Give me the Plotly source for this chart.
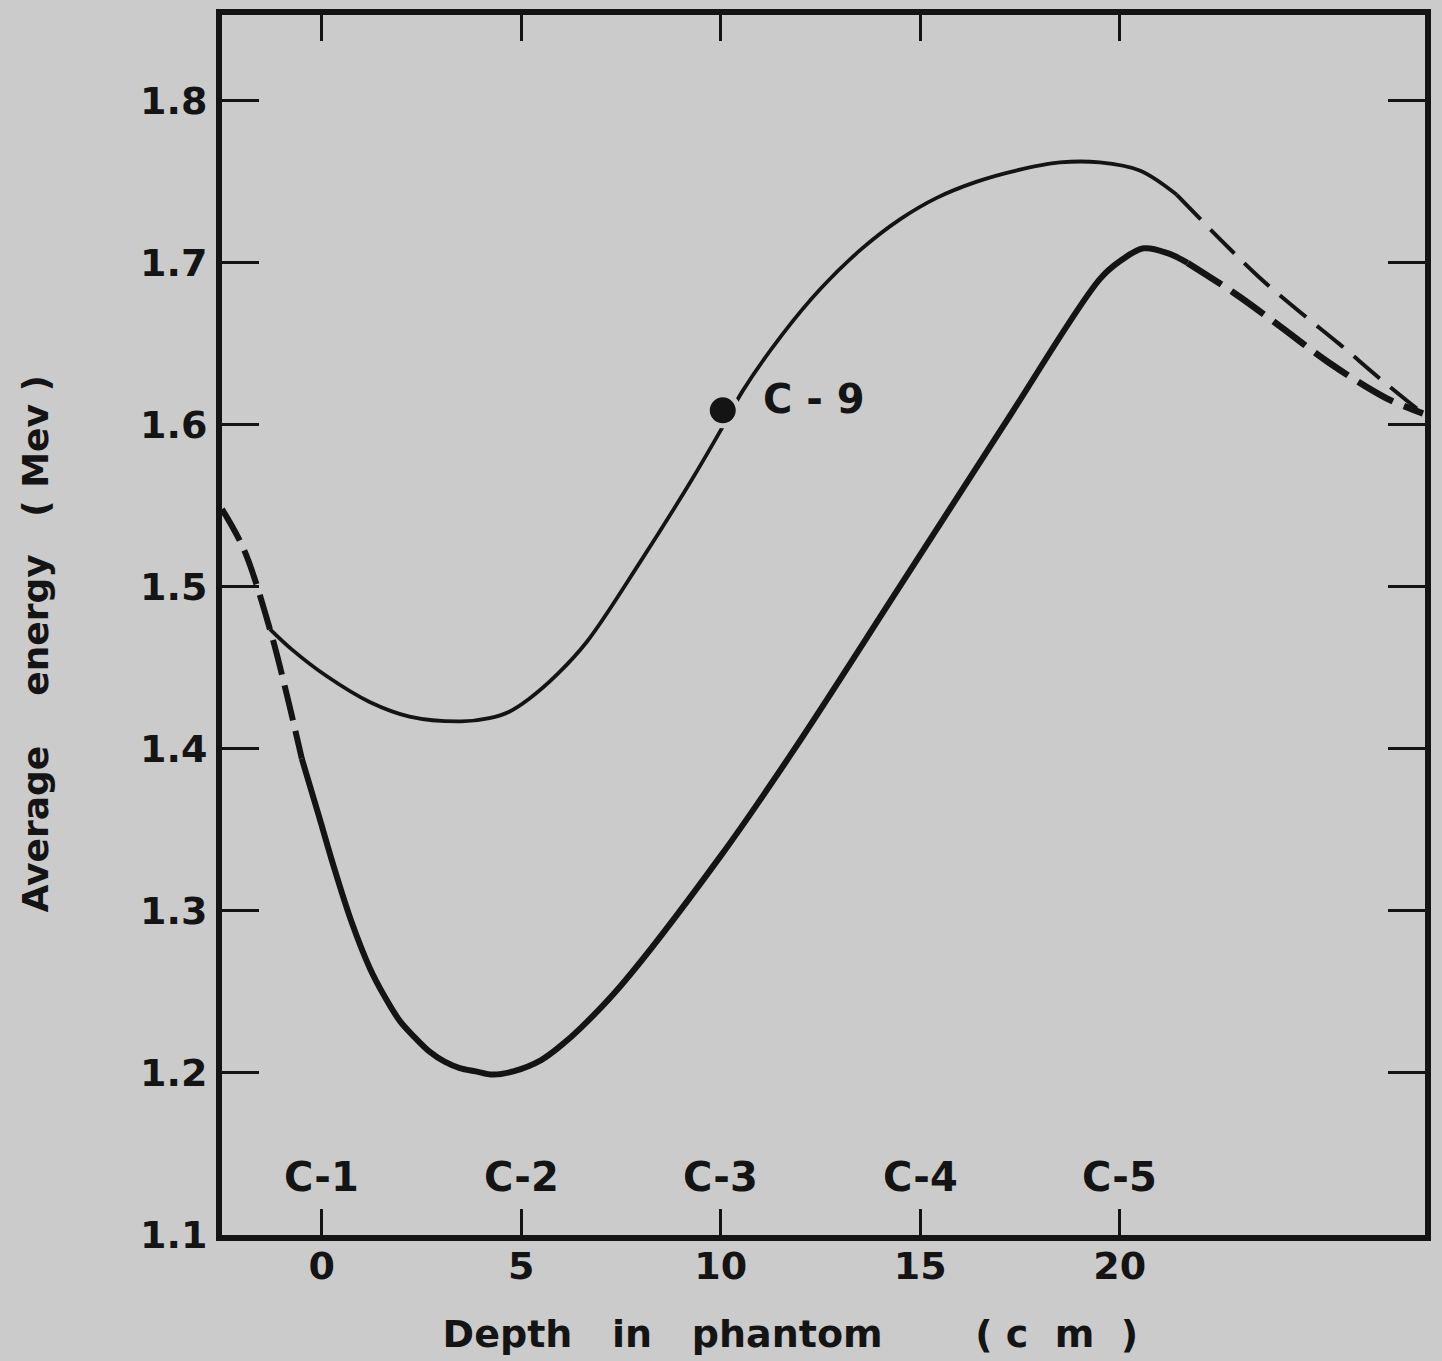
import plotly.graph_objects as go

# ---------------- data ----------------
# lower (thick) curve, initial dashed part
low_dash_a_x = [-2.5, -1.95, -1.3, -0.9, -0.5]
low_dash_a_y = [1.548, 1.523, 1.474, 1.436, 1.394]
# lower curve, solid part
low_x = [-0.5, -0.10, 0.33, 0.75, 1.20, 1.58, 1.96, 2.33, 2.71, 3.08, 3.46, 3.86, 4.29,
         4.8, 5.5, 6.0, 6.5, 7.5, 10.0, 11.85, 14.48, 17.1, 19.5, 20.0, 20.6, 21.2, 21.7]
low_y = [1.394, 1.361, 1.325, 1.293, 1.265, 1.247, 1.232, 1.222, 1.213, 1.207, 1.203, 1.201, 1.199,
         1.201, 1.208, 1.217, 1.228, 1.254, 1.334, 1.400, 1.500, 1.600, 1.690, 1.701, 1.709, 1.706, 1.700]
# lower curve, final dashed part
low_dash_b_x = [21.7, 22.83, 24.01, 25.21, 26.64, 27.6]
low_dash_b_y = [1.700, 1.682, 1.661, 1.639, 1.617, 1.607]

# upper (thin) curve, solid part
up_x = [-1.3, -0.73, 0.12, 1.2, 2.2, 3.5, 4.2, 4.7, 5.2, 5.9, 6.64, 7.97, 9.27, 10.03,
        10.55, 11.55, 12.5, 13.5, 14.5, 15.4, 16.4, 17.4, 18.5, 19.5, 20.5, 21.43]
up_y = [1.474, 1.461, 1.445, 1.429, 1.420, 1.417, 1.419, 1.423, 1.431, 1.446, 1.466, 1.515, 1.566, 1.598,
        1.621, 1.656, 1.684, 1.708, 1.727, 1.740, 1.750, 1.757, 1.762, 1.762, 1.757, 1.742]
# upper curve, final dashed part
up_dash_x = [21.43, 22.58, 23.5, 24.5, 25.5, 26.5, 27.6]
up_dash_y = [1.742, 1.713, 1.691, 1.670, 1.650, 1.629, 1.607]

# measured point C-9
c9_x = [10.05]
c9_y = [1.609]
c9_label = "C\u00a0-\u00a09"

# position labels along the depth axis
pos_labels = ["C-1", "C-2", "C-3", "C-4", "C-5"]
pos_x = [0, 5, 10, 15, 20]
pos_label_y = 1.136

x_ticks = [0, 5, 10, 15, 20]
x_ticktext = ["0", "5", "10", "15", "20"]
y_ticks = [1.1, 1.2, 1.3, 1.4, 1.5, 1.6, 1.7, 1.8]
y_ticktext = ["1.1", "1.2", "1.3", "1.4", "1.5", "1.6", "1.7", "1.8"]

NB = "\u00a0"
ZW = "\u200b"
x_title = ("Depth" + NB * 3 + "in" + NB * 3 + "phantom" + NB * 7 + "(" + NB + "c" + NB * 2 + "m"
           + NB * 2 + ")" + NB * 5 + ZW)
y_title = "Average" + NB * 4 + "energy" + NB * 3 + "(" + NB + "Mev" + NB + ")" + NB * 3 + ZW

# ---------------- styling ----------------
BG = "#cbcbcb"
INK = "#141414"
FONT = "DejaVu Sans"

fig = go.Figure()

fig.add_trace(go.Scatter(x=low_dash_a_x, y=low_dash_a_y, mode="lines",
                         line=dict(color=INK, width=6, dash="36px,11px", shape="spline"),
                         showlegend=False, hoverinfo="skip"))
fig.add_trace(go.Scatter(x=low_x, y=low_y, mode="lines",
                         line=dict(color=INK, width=6, shape="spline", smoothing=1.0),
                         showlegend=False))
fig.add_trace(go.Scatter(x=low_dash_b_x, y=low_dash_b_y, mode="lines",
                         line=dict(color=INK, width=6.5, dash="40px,12px", shape="spline"),
                         showlegend=False))
fig.add_trace(go.Scatter(x=up_x, y=up_y, mode="lines",
                         line=dict(color=INK, width=3.8, shape="spline", smoothing=1.0),
                         showlegend=False))
fig.add_trace(go.Scatter(x=up_dash_x, y=up_dash_y, mode="lines",
                         line=dict(color=INK, width=4, dash="34px,14px", shape="spline"),
                         showlegend=False))
fig.add_trace(go.Scatter(x=c9_x, y=c9_y, mode="markers",
                         marker=dict(color=INK, size=31, line=dict(color=BG, width=5)),
                         showlegend=False))

annotations = []
for lab, xv in zip(pos_labels, pos_x):
    annotations.append(dict(x=xv, y=pos_label_y, xref="x", yref="y", text=lab,
                            showarrow=False, xanchor="center", yanchor="middle",
                            font=dict(family=FONT, size=40, color=INK, weight="bold")))
annotations.append(dict(x=11.0, y=1.616, xref="x", yref="y", text=c9_label,
                        showarrow=False, xanchor="left", yanchor="middle",
                        font=dict(family=FONT, size=40, color=INK, weight="bold")))

fig.update_layout(
    width=1442, height=1361,
    margin=dict(l=222, r=17, t=9, b=126),
    paper_bgcolor=BG, plot_bgcolor=BG,
    annotations=annotations,
    font=dict(family=FONT, color=INK),
)

fig.update_xaxes(
    range=[-2.5, 27.65], tickvals=x_ticks, ticktext=x_ticktext,
    ticks="inside", ticklen=26, tickwidth=3, tickcolor=INK,
    showline=True, linewidth=6, linecolor=INK, mirror="ticks",
    showgrid=False, zeroline=False,
    tickfont=dict(family=FONT, size=38, color=INK, weight="bold"),
    ticklabelstandoff=-8,
    title=dict(text=x_title, font=dict(family=FONT, size=38, color=INK, weight="bold"), standoff=36),
)
fig.update_yaxes(
    range=[1.1, 1.853], tickvals=y_ticks, ticktext=y_ticktext,
    ticks="inside", ticklen=37, tickwidth=3, tickcolor=INK,
    showline=True, linewidth=6, linecolor=INK, mirror="ticks",
    showgrid=False, zeroline=False,
    tickfont=dict(family=FONT, size=38, color=INK, weight="bold"),
    ticklabelstandoff=1,
    title=dict(text=y_title, font=dict(family=FONT, size=36, color=INK, weight="bold"), standoff=82),
)

fig.write_html("out.html")
